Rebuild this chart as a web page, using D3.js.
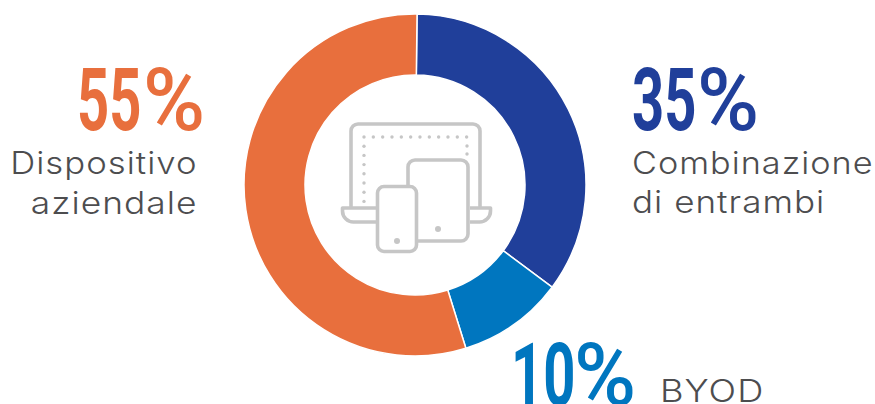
<!DOCTYPE html>
<html>
<head>
<meta charset="utf-8">
<script src="https://cdn.jsdelivr.net/npm/d3@7/dist/d3.min.js"></script>
<style>
html,body{margin:0;padding:0;background:#fff;overflow:hidden}
svg{display:block}
.num{font-family:"Roboto",sans-serif;font-weight:700;font-size:87px}
.pct{font-family:"Roboto",sans-serif;font-weight:500;font-size:87px}
.cap{font-family:"Inter",sans-serif;font-weight:300;fill:#4d4d4f;font-size:31px;letter-spacing:0.9px}
</style>
</head>
<body>
<svg id="chart" width="875" height="404"></svg>
<script>
const categories = [["Combinazione", "di entrambi"], ["BYOD"], ["Dispositivo", "aziendale"]];
const shares = [35, 10, 55];
const sliceColors = ["#203f9a", "#0076bf", "#e86f3d"];

const svg = d3.select("#chart");
const cx = 415, cy = 185;
const tilt = 0.012;

const pie = d3.pie().sort(null).value(d => d)
  .startAngle(tilt).endAngle(2 * Math.PI + tilt)(shares);
const arc = d3.arc().innerRadius(110).outerRadius(171);

svg.append("g").attr("transform", `translate(${cx},${cy})`)
  .selectAll("path").data(pie).join("path")
  .attr("d", arc)
  .attr("fill", (d, i) => sliceColors[i])
  .attr("stroke", "#fff")
  .attr("stroke-width", 1.5);

// Device pictogram in the hole
const icon = svg.append("g").attr("fill", "none").attr("stroke", "#c6c6c6")
  .attr("stroke-width", 3.6).attr("stroke-linejoin", "round");
icon.append("path").attr("d", "M351,208V131a7,7 0 0 1 7,-7H473a7,7 0 0 1 7,7V208");
icon.append("path").attr("d", "M378,208H342.500V211a11,11 0 0 0 11,11H378M470,208H490.500V211a11,11 0 0 1 -11,11H470");
icon.append("path").attr("d", "M408,186V167a7,7 0 0 1 7,-7H461a7,7 0 0 1 7,7V234a7,7 0 0 1 -7,7H418");
icon.append("rect").attr("x", 377.500).attr("y", 186.500).attr("width", 39).attr("height", 65).attr("rx", 6.500);

const dotRow = d3.range(364, 468, 9.33);
const dotCol = d3.range(146.200, 202, 9.2);
const dots = [
  ...dotRow.map(x => [x, 137]),
  ...dotCol.map(y => [364, y]),
  [467, 146], [467, 154]
];
svg.append("g").attr("fill", "#c6c6c6").selectAll("circle").data(dots).join("circle")
  .attr("cx", d => d[0]).attr("cy", d => d[1]).attr("r", 1.7);
svg.append("g").attr("fill", "#c6c6c6").selectAll("circle").data([[438, 229], [397, 241]]).join("circle")
  .attr("cx", d => d[0]).attr("cy", d => d[1]).attr("r", 3);

// Percentages: squeezed digits followed by a wider percent sign
const bigLabels = [
  {i: 2, x: 77, y: 130, gap: 66},
  {i: 0, x: 632, y: 130, gap: 65},
  {i: 1, x: 511, y: 405, gap: 63}
];
bigLabels.forEach(l => {
  svg.append("text").attr("class", "num")
    .attr("transform", `translate(${l.x},${l.y}) scale(0.645,1)`)
    .attr("fill", sliceColors[l.i])
    .text(shares[l.i]);
  svg.append("text").attr("class", "pct")
    .attr("transform", `translate(${l.x + l.gap},${l.y}) scale(0.97,1)`)
    .attr("fill", sliceColors[l.i])
    .text("%");
});

// Captions are widened horizontally; right-aligned lines keep their right edge
const capPlacement = [
  {c: 2, l: 0, x: 197.500, y: 174, a: "end", w: 1.12},
  {c: 2, l: 1, x: 197.500, y: 214, a: "end", w: 1.14},
  {c: 0, l: 0, x: 632, y: 174, a: "start", w: 1.105},
  {c: 0, l: 1, x: 632, y: 213, a: "start", w: 1.13},
  {c: 1, l: 0, x: 660, y: 402, a: "start", w: 1.17}
];
svg.append("g").selectAll("text").data(capPlacement).join("text")
  .attr("class", "cap")
  .attr("transform", d => `translate(${d.x},${d.y}) scale(${d.w},1)`)
  .attr("text-anchor", d => d.a)
  .text(d => categories[d.c][d.l]);
</script>
</body>
</html>
